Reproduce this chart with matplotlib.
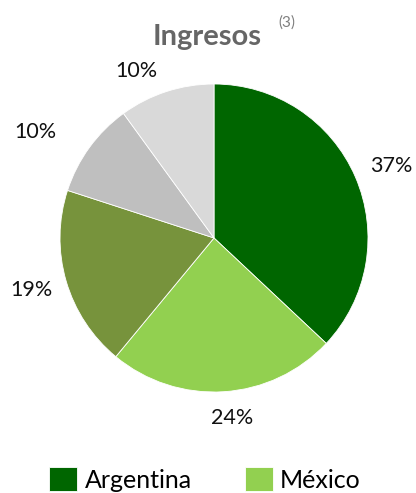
import matplotlib
matplotlib.use("Agg")
import matplotlib.pyplot as plt
import numpy as np

plt.rcParams['font.family'] = ['Lato', 'DejaVu Sans']

# Data
labels = ["Argentina", "México", "Otro 1", "Otro 2", "Otro 3"]
values = [37, 24, 19, 10, 10]
colors = ["#006600", "#92D050", "#77933C", "#BFBFBF", "#D9D9D9"]
legend_labels = ["Argentina", "México"]
# label placement: (radius, angular shift in degrees from wedge mid-angle)
label_pos = [(1.24, -1.2), (1.175, 2.1), (1.235, -0.3), (1.35, 5.4), (1.196, 7.0)]

fig = plt.figure(figsize=(4.16, 4.93), dpi=100)
ax = fig.add_axes([60/416, 1-392/493, 308/416, 308/493])

wedges, _ = ax.pie(values, colors=colors, startangle=90, counterclock=False,
                   wedgeprops=dict(linewidth=0.6, edgecolor="white"))
ax.set_xlim(-1, 1)
ax.set_ylim(-1, 1)
ax.set_aspect('equal')

total = sum(values)
for w, v, (d, sh) in zip(wedges, values, label_pos):
    ang = np.deg2rad((w.theta1 + w.theta2) / 2 + sh)
    ax.text(d*np.cos(ang), d*np.sin(ang), f"{round(100*v/total)}%",
            ha='center', va='center', fontsize=15.5, color='#111111', clip_on=False)

fig.text(207/416, 1-45/493, "Ingresos", ha='center', va='baseline',
         fontsize=21, fontweight='bold', color='#666666')
fig.text(278/416, 1-27/493, "(3)", ha='left', va='baseline',
         fontsize=11, color='#7F7F7F')

leg = fig.legend(wedges[:2], legend_labels, loc='upper left',
                 bbox_to_anchor=(49/416, 1-467/493), ncol=2, frameon=False,
                 fontsize=18, handlelength=1.12, handleheight=1.12,
                 columnspacing=2.12, handletextpad=0.3,
                 borderpad=0, borderaxespad=0)

fig.savefig("out.png", dpi=100)
